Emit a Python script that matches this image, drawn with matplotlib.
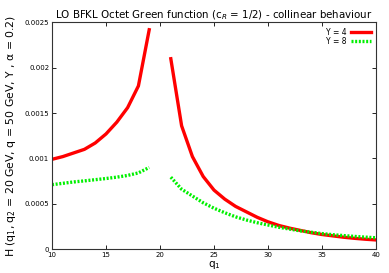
import matplotlib
matplotlib.use("Agg")
import matplotlib.pyplot as plt
from matplotlib.ticker import FixedLocator, FixedFormatter

q_left = [10, 11, 12, 13, 14, 15, 16, 17, 18, 19]
q_right = [21, 22, 23, 24, 25, 26, 27, 28, 29, 30, 31, 32, 33, 34, 35, 36, 37, 38, 39, 40]

y4_left = [0.00099, 0.00102, 0.00106, 0.00110, 0.00117, 0.00127, 0.00140, 0.00156, 0.00180, 0.00242]
y4_right = [0.00210, 0.00136, 0.00102, 0.00080, 0.00065, 0.00055, 0.00047, 0.00041, 0.00035, 0.00030,
            0.00026, 0.00023, 0.000205, 0.000180, 0.000160, 0.000145, 0.000130, 0.000118, 0.000108, 0.000100]

y8_left = [0.000710, 0.000725, 0.000740, 0.000752, 0.000765, 0.000778, 0.000793, 0.000812, 0.000840, 0.000900]
y8_right = [0.000793, 0.00066, 0.000585, 0.00051, 0.00045, 0.00040, 0.000355, 0.00032, 0.00029, 0.000265,
            0.000240, 0.000220, 0.000200, 0.000185, 0.000170, 0.000158, 0.000148, 0.000139, 0.000131, 0.000124]

xticks = [10, 15, 20, 25, 30, 35, 40]
yticks = [0, 0.0005, 0.001, 0.0015, 0.002, 0.0025]
ytick_labels = ["0", "0.0005", "0.001", "0.0015", "0.002", "0.0025"]

fig = plt.figure(figsize=(3.89, 2.73), dpi=100)
ax = fig.add_axes([0.1337, 0.0879, 0.8329, 0.8297])

red = "#ff0000"
green = "#00f000"
ax.plot(q_left, y4_left, color=red, lw=2.4, label="Y = 4")
ax.plot(q_right, y4_right, color=red, lw=2.4)
ax.plot(q_left, y8_left, color=green, lw=2.4, ls=(0, (0.6, 0.5)), label="Y = 8")
ax.plot(q_right, y8_right, color=green, lw=2.4, ls=(0, (0.6, 0.5)))

ax.set_xlim(10, 40)
ax.set_ylim(0, 0.0025)
ax.xaxis.set_major_locator(FixedLocator(xticks))
ax.xaxis.set_major_formatter(FixedFormatter([str(t) for t in xticks]))
ax.yaxis.set_major_locator(FixedLocator(yticks))
ax.yaxis.set_major_formatter(FixedFormatter(ytick_labels))
ax.tick_params(direction="in", top=True, right=True, labelsize=5, length=3, width=0.6, pad=2)
for s in ax.spines.values():
    s.set_linewidth(0.8)
    s.set_color("#333333")

ax.set_title("LO BFKL Octet Green function (c$_R$ = 1/2) - collinear behaviour", fontsize=7.4, pad=3)
ax.set_xlabel("q$_1$", fontsize=7.5, labelpad=1)
ax.set_ylabel("H (q$_1$, q$_2$ = 20 GeV, q = 50 GeV, Y , α = 0.2)", fontsize=7.8, labelpad=5)

leg = ax.legend(loc="upper right", frameon=False, fontsize=5.5, markerfirst=False,
                handlelength=2.6, handletextpad=0.6, labelspacing=0.0, borderaxespad=0.3)

fig.savefig("out.png", dpi=100)
